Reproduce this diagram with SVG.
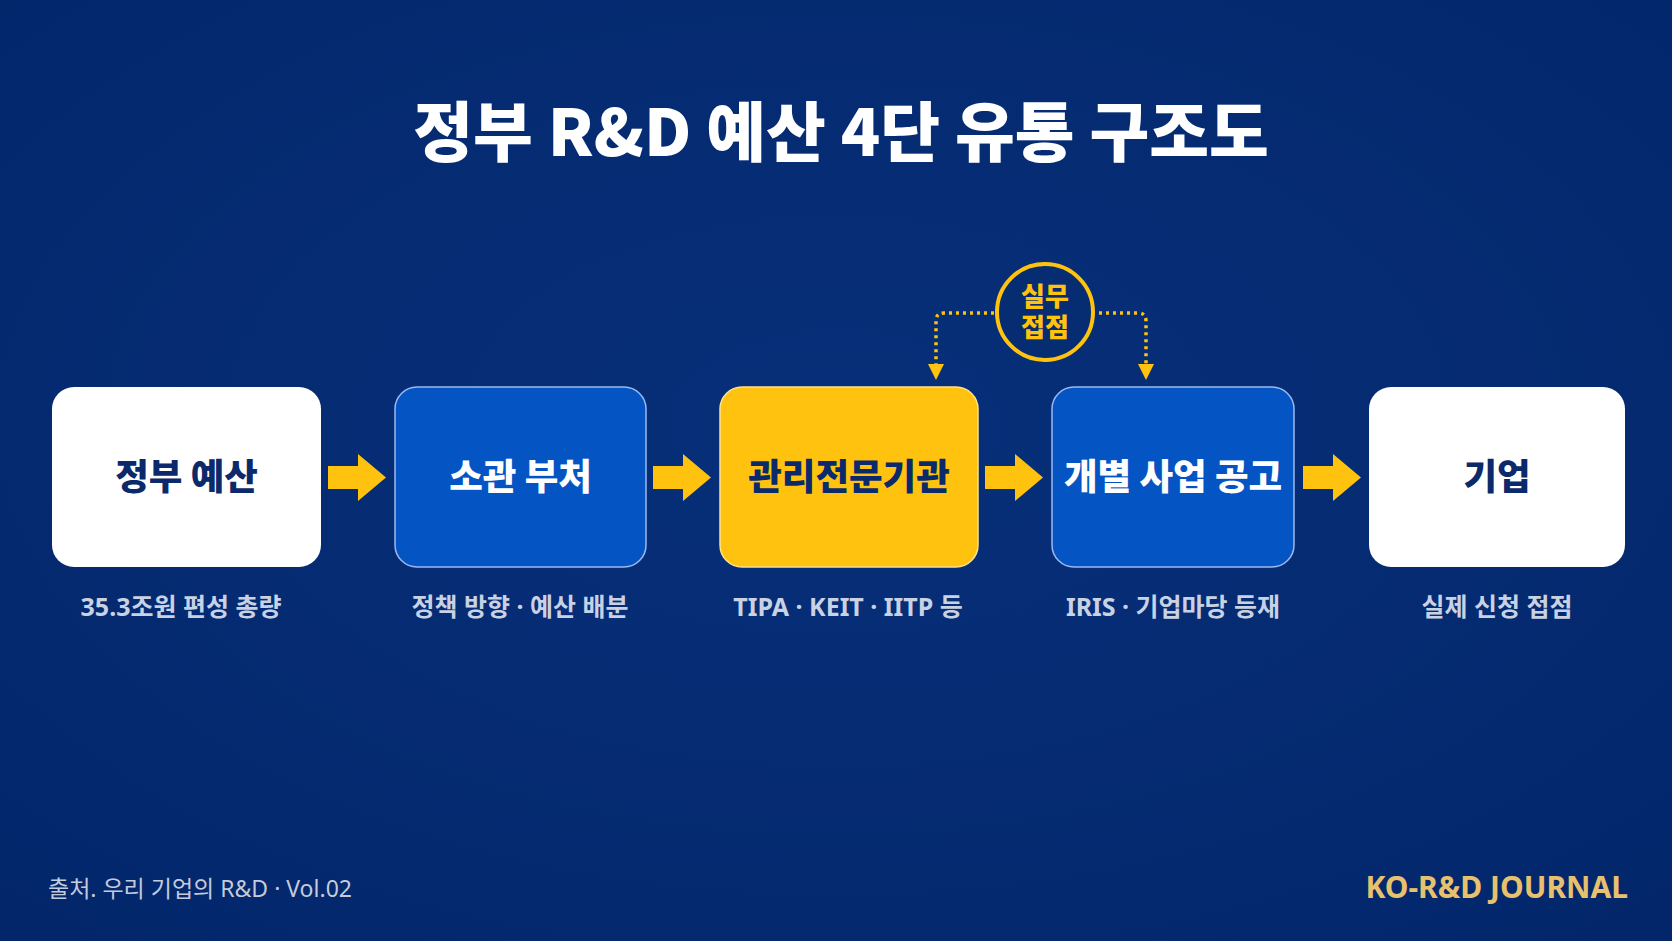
<svg xmlns="http://www.w3.org/2000/svg" width="1672" height="941" viewBox="0 0 1672 941">
<defs>
<style>
.kr{font-family:"Noto Sans CJK KR","Noto Sans",sans-serif;}
.mx{font-family:"Noto Sans","Noto Sans CJK KR",sans-serif;}
.title{font-size:65px;font-weight:900;fill:#ffffff;}
.lbl{font-size:36.5px;font-weight:900;}
.sub{font-size:25px;font-weight:700;fill:#c9d2e4;}
.box{stroke-width:1.5;}
.arrow{fill:#ffc20e;}
.dot{fill:none;stroke:#ffc20e;stroke-width:3.5;stroke-dasharray:3 4;}
</style>
<radialGradient id="bg" cx="50%" cy="45%" r="75%">
<stop offset="0" stop-color="#07307a"/>
<stop offset="1" stop-color="#03266a"/>
</radialGradient>
</defs>
<rect width="1672" height="941" fill="url(#bg)"/>
<text class="kr title" x="841" y="156" text-anchor="middle">정부 R&amp;D 예산 4단 유통 구조도</text>

<g id="connectors">
<path class="arrow" d="M328,466 L358,466 L358,454 L386,477.5 L358,501 L358,489 L328,489 Z"/>
<path class="arrow" d="M653,466 L683,466 L683,454 L711,477.5 L683,501 L683,489 L653,489 Z"/>
<path class="arrow" d="M985,466 L1015,466 L1015,454 L1043,477.5 L1015,501 L1015,489 L985,489 Z"/>
<path class="arrow" d="M1303,466 L1333,466 L1333,454 L1361,477.5 L1333,501 L1333,489 L1303,489 Z"/>
<path class="dot" d="M994,313 L944,313 Q936,313 936,321 L936,366"/>
<path class="dot" d="M1099,313 L1138,313 Q1146,313 1146,321 L1146,366"/>
<path d="M928,364 L944,364 L936,380 Z" fill="#ffc20e"/>
<path d="M1138,364 L1154,364 L1146,380 Z" fill="#ffc20e"/>
</g>

<g id="touchpoint">
<circle cx="1045" cy="312" r="48" fill="#062c72" stroke="#ffc20e" stroke-width="4"/>
<text class="kr" text-anchor="middle" font-size="26" font-weight="900" fill="#ffc20e"><tspan x="1045" y="306">실무</tspan><tspan x="1045" y="337">접점</tspan></text>
</g>

<g id="node-budget">
<rect x="52" y="387" width="269" height="180" rx="22" fill="#ffffff"/>
<text class="kr lbl" x="186.5" y="490" text-anchor="middle" fill="#0b2a6b">정부 예산</text>
<text class="mx sub" x="181" y="616" text-anchor="middle">35.3조원 편성 총량</text>
</g>

<g id="node-ministry">
<rect class="box" x="395" y="387" width="251" height="180" rx="22" fill="#0454c4" stroke="#9db8f0"/>
<text class="kr lbl" x="520.5" y="490" text-anchor="middle" fill="#ffffff">소관 부처</text>
<text class="mx sub" x="520" y="616" text-anchor="middle">정책 방향 · 예산 배분</text>
</g>

<g id="node-agency">
<rect class="box" x="720" y="387" width="258" height="180" rx="22" fill="#ffc20e" stroke="#ffe28a"/>
<text class="kr lbl" x="849" y="490" text-anchor="middle" fill="#0b2a6b">관리전문기관</text>
<text class="mx sub" x="848" y="616" text-anchor="middle">TIPA · KEIT · IITP 등</text>
</g>

<g id="node-notice">
<rect class="box" x="1052" y="387" width="242" height="180" rx="22" fill="#0454c4" stroke="#9db8f0"/>
<text class="kr lbl" x="1173" y="490" text-anchor="middle" fill="#ffffff">개별 사업 공고</text>
<text class="mx sub" x="1173" y="616" text-anchor="middle">IRIS · 기업마당 등재</text>
</g>

<g id="node-company">
<rect x="1369" y="387" width="256" height="180" rx="22" fill="#ffffff"/>
<text class="kr lbl" x="1497" y="490" text-anchor="middle" fill="#0b2a6b">기업</text>
<text class="mx sub" x="1497" y="616" text-anchor="middle">실제 신청 접점</text>
</g>

<text class="mx" x="48" y="897" font-size="23" fill="#c3cbdc">출처. 우리 기업의 R&amp;D · Vol.02</text>
<text class="mx" x="1628" y="898" text-anchor="end" font-size="30" font-weight="700" fill="#e8c16e">KO-R&amp;D JOURNAL</text>
</svg>
